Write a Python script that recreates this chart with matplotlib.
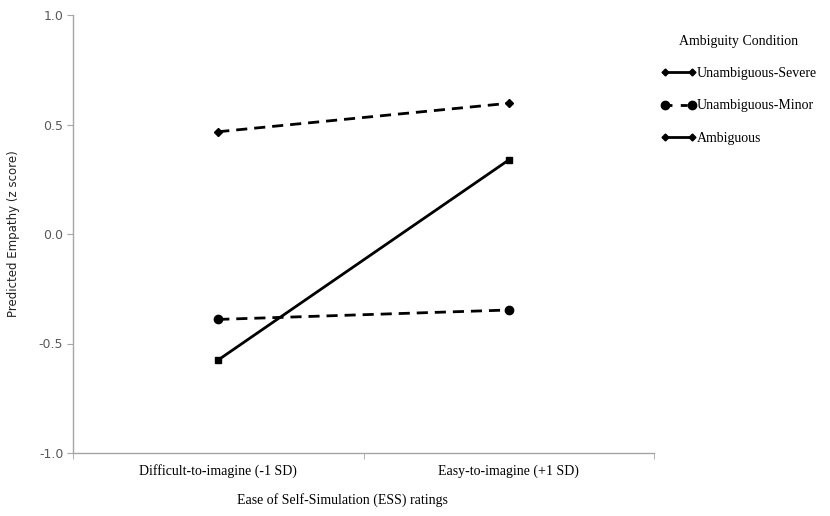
import matplotlib
matplotlib.use("Agg")
import matplotlib.pyplot as plt
from matplotlib.lines import Line2D

categories = ["Difficult-to-imagine (-1 SD)", "Easy-to-imagine (+1 SD)"]
severe = [0.467, 0.597]
minor = [-0.39, -0.347]
ambiguous = [-0.575, 0.338]
legend_labels = ["Unambiguous-Severe", "Unambiguous-Minor", "Ambiguous"]

serif = "Liberation Serif"

fig = plt.figure(figsize=(8.3, 5.16), dpi=100)
ax = fig.add_axes([73 / 830, 63 / 516, 581 / 830, 438 / 516])

x = list(range(len(categories)))
ax.plot(x, severe, color="black", lw=2, ls=(0, (4, 2.5)), marker="D", ms=4.5)
ax.plot(x, minor, color="black", lw=2, ls=(0, (4, 2.5)), marker="o", ms=6)
ax.plot(x, ambiguous, color="black", lw=2, ls="-", marker="s", ms=4)

ax.set_xlim(-0.5, 1.5)
ax.set_ylim(-1.0, 1.0)
ax.set_yticks([-1.0, -0.5, 0.0, 0.5, 1.0])
ax.set_yticklabels(["-1.0", "-0.5", "0.0", "0.5", "1.0"])
ax.tick_params(axis="y", length=4, color="#A6A6A6", labelsize=9,
               labelcolor="#595959", pad=3)

ax.set_xticks(x)
ax.set_xticklabels(categories, fontfamily=serif, fontsize=10)
ax.tick_params(axis="x", length=0, pad=8)
ax.set_xticks([-0.5, 0.5, 1.5], minor=True)
ax.tick_params(axis="x", which="minor", length=4, color="#A6A6A6", direction="out")

for s in ["top", "right"]:
    ax.spines[s].set_visible(False)
for s in ["left", "bottom"]:
    ax.spines[s].set_color("#A6A6A6")
    ax.spines[s].set_linewidth(1)

ax.set_ylabel("Predicted Empathy (z score)", fontsize=8.5, color="#222222")
ax.yaxis.set_label_coords(-0.092, 0.5)
fig.text(342 / 830, 1 - 500 / 516, "Ease of Self-Simulation (ESS) ratings",
         fontfamily=serif, fontsize=10, ha="center", va="center")

handles = [
    Line2D([0], [0], color="black", lw=2, marker="D", ms=3.5),
    Line2D([0], [0], color="black", lw=2, ls=(0, (2.5, 3)), marker="o", ms=6),
    Line2D([0], [0], color="black", lw=2, marker="D", ms=3.5),
]
leg = fig.legend(handles, legend_labels, loc="upper left",
                 bbox_to_anchor=(648 / 830, 1 - 22 / 516), frameon=False,
                 title="Ambiguity Condition", numpoints=2,
                 prop={"family": serif, "size": 10},
                 title_fontproperties={"family": serif, "size": 10},
                 handlelength=2.6, handletextpad=0.0, labelspacing=1.4)
leg._legend_box.sep = 14

fig.savefig("out.png", dpi=100)
